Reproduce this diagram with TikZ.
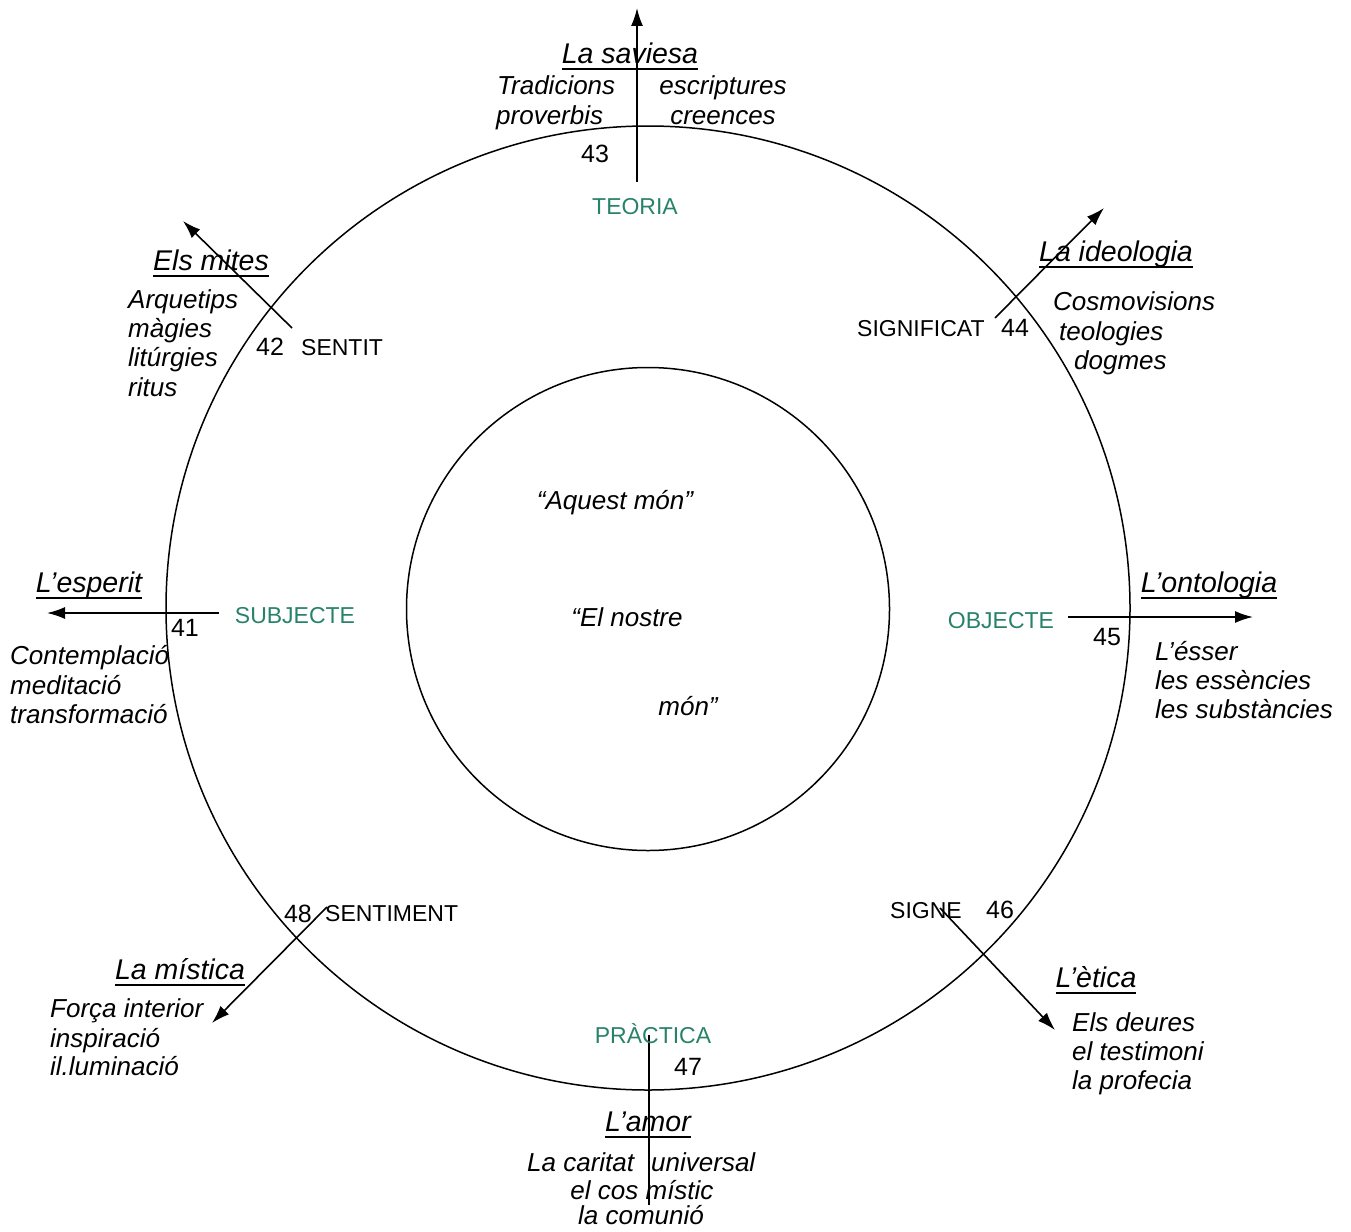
\documentclass[tikz,border=0pt]{standalone}
\usepackage{fontspec}
\setmainfont{Liberation Sans}
\usetikzlibrary{arrows.meta}
\definecolor{poleteal}{RGB}{40,130,105}
\newcommand{\ttlu}[1]{\setbox0\hbox{#1}\rlap{\rule[-6pt]{\wd0}{1.5pt}}\box0}
\begin{document}
\begin{tikzpicture}[x=1pt,y=-1pt,
 desc/.style={font=\fontsize{26}{30}\selectfont\itshape, inner sep=0pt, yshift=-7pt},
 ttl/.style={font=\fontsize{28.5}{32}\selectfont\itshape, inner sep=0pt, anchor=mid, yshift=-7pt},
 lab/.style={font=\fontsize{23}{26}\selectfont, inner sep=0pt, yshift=-6pt},
 num/.style={font=\fontsize{25}{28}\selectfont, inner sep=0pt, anchor=mid, yshift=-6pt},
 pole/.style={lab, text=poleteal, anchor=mid},
 arr/.style={line width=1.6pt, -{Latex[length=18pt,width=12pt]}},
 ring/.style={draw, circle, line width=1.5pt, inner sep=0pt}]
\useasboundingbox (0,0) rectangle (1351,1231);
% circles
\node[ring, minimum size=964pt] (outer) at (648,608) {};
\node[ring, minimum size=483pt] (inner) at (648,609) {};
% connector end points
\coordinate (s43) at (637,182); \coordinate (e43) at (637,8);
\coordinate (s42) at (292,328); \coordinate (e42) at (183,221);
\coordinate (s44) at (995,318); \coordinate (e44) at (1104,208);
\coordinate (s41) at (219,613); \coordinate (e41) at (47,613);
\coordinate (s45) at (1068,617); \coordinate (e45) at (1253,617);
\coordinate (s48) at (327,907); \coordinate (e48) at (212,1023);
\coordinate (s46) at (940,908); \coordinate (e46) at (1055,1030);
\coordinate (s47) at (649,1035); \coordinate (e47) at (649,1205);
\draw[arr] (s43) -- (e43);
\draw[arr] (s42) -- (e42);
\draw[arr] (s44) -- (e44);
\draw[arr] (s41) -- (e41);
\draw[arr] (s45) -- (e45);
\draw[arr] (s48) -- (e48);
\draw[arr] (s46) -- (e46);
\draw[line width=1.6pt] (s47) -- (e47);
% top: 43
\node[ttl] (t43) at (630,54) {\ttlu{La saviesa}};
\node[desc, anchor=mid west] (a43) at (497,85) {Tradicions};
\node[desc, anchor=mid west] (b43) at (496,115) {proverbis};
\node[desc, anchor=mid] (c43) at (723,85) {escriptures};
\node[desc, anchor=mid] (d43) at (723,115) {creences};
\node[num] (n43) at (595,154) {43};
\node[pole] (teoria) at (635,206) {TEORIA};
% 42
\node[ttl] (t42) at (211,261) {\ttlu{Els mites}};
\node[desc, anchor=mid west] (a42) at (128,299) {Arquetips};
\node[desc, anchor=mid west] (b42) at (128,328) {màgies};
\node[desc, anchor=mid west] (c42) at (128,357) {litúrgies};
\node[desc, anchor=mid west] (d42) at (128,387) {ritus};
\node[num] (n42) at (270,347) {42};
\node[lab, anchor=mid west] (sentit) at (301,347) {SENTIT};
% 44
\node[ttl] (t44) at (1116,252) {\ttlu{La ideologia}};
\node[desc, anchor=mid west] (a44) at (1053,301) {Cosmovisions};
\node[desc, anchor=mid west] (b44) at (1059,331) {teologies};
\node[desc, anchor=mid west] (c44) at (1074,360) {dogmes};
\node[lab, anchor=mid west] (signif) at (857,328) {SIGNIFICAT};
\node[num] (n44) at (1015,328) {44};
% 41
\node[ttl] (t41) at (89,583) {\ttlu{L’esperit}};
\node[num] (n41) at (185,628) {41};
\node[pole] (subj) at (295,615) {SUBJECTE};
\node[desc, anchor=mid west] (a41) at (10,655) {Contemplació};
\node[desc, anchor=mid west] (b41) at (10,685) {meditació};
\node[desc, anchor=mid west] (c41) at (10,714) {transformació};
% 45
\node[pole] (obj) at (1001,620) {OBJECTE};
\node[num] (n45) at (1107,637) {45};
\node[ttl] (t45) at (1209,583) {\ttlu{L’ontologia}};
\node[desc, anchor=mid west] (a45) at (1155,651) {L’ésser};
\node[desc, anchor=mid west] (b45) at (1155,680) {les essències};
\node[desc, anchor=mid west] (c45) at (1155,709) {les substàncies};
% 48
\node[num] (n48) at (298,914) {48};
\node[lab, anchor=mid west] (sentim) at (325,913) {SENTIMENT};
\node[ttl] (t48) at (180,970) {\ttlu{La mística}};
\node[desc, anchor=mid west] (a48) at (50,1008) {Força interior};
\node[desc, anchor=mid west] (b48) at (50,1038) {inspiració};
\node[desc, anchor=mid west] (c48) at (50,1066) {il.luminació};
% 46
\node[lab, anchor=mid west] (signe) at (890,910) {SIGNE};
\node[num] (n46) at (1000,910) {46};
\node[ttl] (t46) at (1096,978) {\ttlu{L’ètica}};
\node[desc, anchor=mid west] (a46) at (1072,1022) {Els deures};
\node[desc, anchor=mid west] (b46) at (1072,1051) {el testimoni};
\node[desc, anchor=mid west] (c46) at (1072,1080) {la profecia};
% 47
\node[pole] (pract) at (653,1035) {PRÀCTICA};
\node[num] (n47) at (688,1067) {47};
\node[ttl] (t47) at (648,1122) {\ttlu{L’amor}};
\node[desc, anchor=mid west] (a47) at (527,1162) {La caritat};
\node[desc, anchor=mid west] (b47) at (651,1162) {universal};
\node[desc, anchor=mid] (c47) at (642,1190) {el cos místic};
\node[desc, anchor=mid] (d47) at (641,1215) {la comunió};
% centre
\node[desc, anchor=mid] (aquest) at (615,500) {“Aquest món”};
\node[desc, anchor=mid] (nostre) at (627,617) {“El nostre};
\node[desc, anchor=mid] (mon) at (688,706) {món”};
\end{tikzpicture}
\end{document}
